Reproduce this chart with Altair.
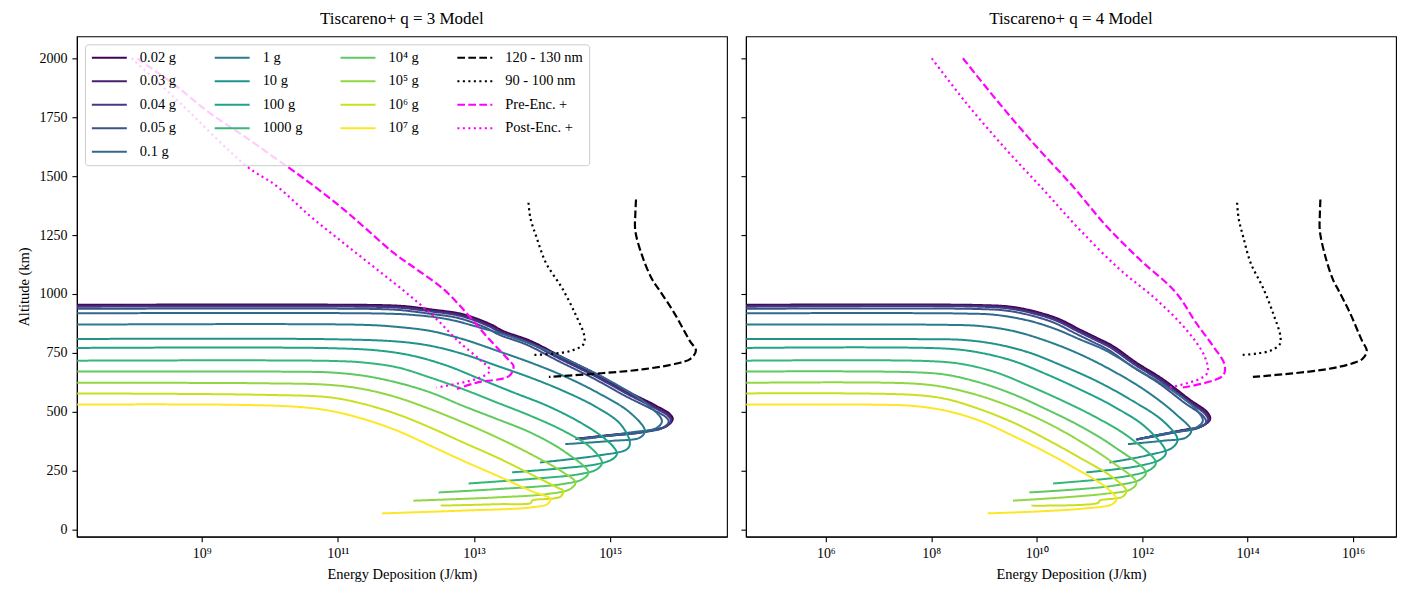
import altair as alt
import pandas as pd

# ---------------- data (log10 energy deposition [J/km], altitude [km]) ----------------
mass_labels = ["0.02 g", "0.03 g", "0.04 g", "0.05 g", "0.1 g", "1 g", "10 g", "100 g",
               "1000 g", "10⁴ g", "10⁵ g", "10⁶ g", "10⁷ g"]
mass_colors = ["#440154", "#481f70", "#443983", "#3b528b", "#31688e", "#287c8e", "#21918c",
               "#20a386", "#35b779", "#5ec962", "#90d743", "#c8e020", "#fde725"]
ref_labels = ["120 - 130 nm", "90 - 100 nm", "Pre-Enc. +", "Post-Enc. +"]
ref_colors = ["#000000", "#000000", "#ff00ff", "#ff00ff"]

# q = 3 model (left panel)
q3_002 = [(7.17, 954), (11.6, 953), (12.0, 948), (12.36, 935), (12.84, 914), (13.24, 872), (13.43, 843), (13.83, 801), (14.31, 730), (14.80, 660), (15.29, 582), (15.68, 525), (15.88, 490), (15.92, 469), (15.84, 441), (15.54, 419), (15.04, 403), (14.52, 386)]
q3_003 = [(7.17, 950), (11.6, 949), (11.98, 944), (12.34, 931), (12.82, 910), (13.22, 868), (13.41, 839), (13.81, 797), (14.29, 726), (14.78, 656), (15.27, 578), (15.66, 521), (15.86, 486), (15.90, 466), (15.82, 439), (15.52, 417), (15.02, 401), (14.50, 385)]
q3_004 = [(7.17, 946), (11.6, 945), (11.97, 940), (12.33, 927), (12.81, 906), (13.21, 864), (13.40, 835), (13.80, 793), (14.28, 722), (14.77, 652), (15.26, 574), (15.65, 517), (15.85, 483), (15.89, 463), (15.81, 437), (15.51, 415), (15.01, 399), (14.49, 384)]
q3_005 = [(7.17, 937), (11.6, 936), (11.94, 931), (12.30, 918), (12.78, 897), (13.18, 856), (13.37, 827), (13.77, 785), (14.25, 714), (14.74, 644), (15.23, 566), (15.62, 510), (15.82, 477), (15.86, 458), (15.78, 433), (15.48, 413), (14.98, 398), (14.52, 385)]
q3_01 = [(7.17, 918), (11.63, 917), (12.11, 911), (12.61, 893), (13.09, 857), (13.58, 815), (14.08, 759), (14.56, 695), (15.04, 624), (15.54, 533), (15.76, 462), (15.69, 433), (15.29, 412), (14.60, 384)]
q3_1 = [(7.17, 870), (11.38, 869), (11.88, 860), (12.36, 843), (12.84, 808), (13.34, 759), (13.83, 709), (14.31, 653), (14.81, 582), (15.29, 497), (15.51, 420), (15.44, 391), (15.04, 377), (14.34, 363)]
q3_10 = [(7.17, 809), (10.89, 808), (11.88, 798), (12.36, 780), (12.84, 745), (13.34, 695), (13.83, 645), (14.31, 589), (14.81, 518), (15.15, 448), (15.29, 370), (15.25, 342), (14.81, 314), (13.97, 285)]
q3_100 = [(7.17, 771), (10.89, 770), (11.63, 759), (12.11, 737), (12.61, 695), (13.09, 639), (13.58, 582), (14.08, 525), (14.56, 455), (14.90, 391), (15.07, 343), (15.10, 321), (15.04, 300), (14.81, 278), (14.31, 261), (13.56, 243)]
q3_1000 = [(7.17, 717), (10.89, 716), (11.38, 709), (11.88, 688), (12.36, 645), (12.84, 596), (13.34, 539), (13.83, 483), (14.31, 420), (14.71, 349), (14.88, 285), (14.81, 257), (14.56, 236), (13.83, 215), (12.92, 196)]
q3_1e4 = [(7.17, 671), (10.41, 670), (10.89, 667), (11.38, 653), (11.87, 624), (12.36, 582), (12.84, 525), (13.34, 469), (13.83, 412), (14.31, 335), (14.68, 243), (14.60, 215), (14.31, 194), (13.34, 172), (12.48, 158)]
q3_1e5 = [(7.17, 623), (9.91, 621), (10.89, 614), (11.38, 596), (11.87, 561), (12.36, 511), (12.84, 455), (13.34, 391), (13.83, 321), (14.31, 243), (14.49, 200), (14.41, 172), (14.07, 151), (13.34, 137), (12.11, 123)]
q3_1e6 = [(7.17, 578), (9.91, 572), (10.89, 561), (11.38, 533), (11.87, 490), (12.36, 433), (12.84, 370), (13.34, 306), (13.83, 236), (14.22, 179), (14.31, 165), (14.27, 140), (13.85, 123), (13.84, 114), (13.34, 108), (12.51, 102)]
q3_1e7 = [(7.17, 531), (9.42, 530), (10.41, 521), (10.89, 504), (11.38, 469), (11.87, 420), (12.36, 356), (12.84, 292), (13.34, 229), (13.83, 165), (14.12, 130), (14.08, 109), (13.83, 94), (12.84, 81), (11.65, 69)]
q3_pre = [(8.05, 2000), (8.63, 1881), (9.12, 1767), (9.62, 1670), (10.10, 1572), (10.29, 1534), (10.69, 1449), (11.08, 1360), (11.42, 1275), (11.82, 1174), (12.15, 1106), (12.55, 1021), (12.89, 919), (13.18, 822), (13.52, 716), (13.58, 695), (13.52, 653), (13.03, 623), (12.75, 597)]
q3_post = [(7.97, 2000), (8.68, 1811), (9.66, 1542), (10.10, 1458), (10.59, 1331), (11.08, 1217), (11.57, 1105), (12.06, 992), (12.45, 893), (12.79, 794), (13.08, 723), (13.23, 681), (13.22, 667), (13.03, 639), (12.45, 603)]

# q = 4 model (right panel)
q4_002 = [(4.49, 954), (8.92, 953), (9.55, 945), (10.05, 921), (10.43, 893), (10.81, 850), (11.13, 815), (11.44, 780), (11.89, 709), (12.39, 639), (12.89, 554), (13.24, 497), (13.29, 469), (13.15, 441), (12.71, 420), (11.92, 384)]
q4_003 = [(4.49, 950), (8.92, 950), (9.53, 941), (10.03, 917), (10.41, 889), (10.79, 846), (11.11, 811), (11.42, 776), (11.87, 705), (12.37, 635), (12.87, 550), (13.22, 493), (13.27, 466), (13.13, 439), (12.69, 418), (11.90, 383)]
q4_004 = [(4.49, 946), (8.92, 946), (9.51, 937), (10.01, 913), (10.39, 885), (10.77, 842), (11.09, 807), (11.40, 772), (11.85, 701), (12.35, 631), (12.85, 546), (13.20, 489), (13.25, 463), (13.11, 437), (12.67, 416), (11.88, 382)]
q4_005 = [(4.49, 937), (8.92, 936), (9.47, 928), (9.97, 904), (10.35, 876), (10.73, 833), (11.05, 798), (11.36, 763), (11.81, 692), (12.31, 622), (12.81, 537), (13.16, 481), (13.21, 456), (13.07, 432), (12.63, 413), (11.90, 382)]
q4_01 = [(4.49, 918), (8.60, 917), (9.23, 911), (9.86, 886), (10.37, 850), (10.81, 808), (11.32, 759), (11.95, 674), (12.58, 589), (13.02, 511), (13.15, 462), (13.02, 433), (12.39, 406), (12.07, 391), (11.95, 386)]
q4_1 = [(4.49, 870), (8.29, 869), (8.92, 864), (9.55, 843), (10.18, 801), (10.81, 745), (11.44, 674), (12.07, 589), (12.64, 490), (12.93, 420), (12.83, 391), (12.39, 377), (11.73, 363)]
q4_10 = [(4.49, 809), (7.97, 808), (8.60, 805), (9.23, 787), (9.86, 751), (10.49, 695), (11.13, 631), (11.76, 554), (12.39, 462), (12.67, 384), (12.58, 349), (12.07, 314), (11.38, 285)]
q4_100 = [(4.49, 771), (8.29, 768), (8.92, 751), (9.55, 716), (10.18, 660), (10.81, 596), (11.44, 525), (12.07, 434), (12.45, 328), (12.36, 300), (11.95, 271), (10.94, 243)]
q4_1000 = [(4.49, 717), (7.97, 715), (8.60, 702), (9.23, 667), (9.86, 610), (10.49, 547), (11.13, 476), (11.76, 391), (12.26, 285), (12.17, 257), (11.76, 229), (10.31, 196)]
q4_1e4 = [(4.49, 671), (7.65, 668), (8.29, 657), (8.92, 624), (9.55, 575), (10.18, 511), (10.81, 441), (11.44, 356), (12.07, 243), (11.98, 215), (11.44, 186), (9.86, 158)]
q4_1e5 = [(4.49, 623), (7.65, 620), (8.29, 603), (8.92, 568), (9.55, 518), (10.18, 455), (10.81, 377), (11.44, 285), (11.89, 200), (11.79, 172), (11.25, 151), (9.55, 123)]
q4_1e6 = [(4.49, 578), (7.65, 572), (8.29, 554), (8.92, 511), (9.55, 455), (10.18, 384), (10.81, 306), (11.44, 222), (11.70, 165), (11.63, 140), (11.19, 123), (11.17, 114), (9.90, 102)]
q4_1e7 = [(4.49, 531), (7.02, 530), (7.65, 525), (8.29, 504), (8.92, 462), (9.55, 398), (10.18, 328), (10.81, 250), (11.32, 179), (11.51, 130), (11.44, 109), (10.81, 88), (9.07, 69)]
q4_pre = [(8.60, 2000), (9.23, 1825), (9.93, 1641), (10.68, 1458), (11.32, 1288), (11.95, 1147), (12.64, 1006), (13.02, 878), (13.34, 780), (13.56, 702), (13.53, 653), (12.77, 603)]
q4_post = [(8.01, 2000), (8.66, 1811), (9.42, 1613), (10.12, 1444), (10.81, 1274), (11.57, 1105), (12.26, 978), (12.83, 850), (13.18, 737), (13.24, 667), (13.08, 639), (12.45, 599)]

# emission-line reference curves (same in both panels)
line_120_130 = [(15.38, 1401), (15.37, 1340), (15.37, 1267), (15.48, 1154), (15.62, 1060), (15.73, 1013), (15.94, 920), (16.17, 801), (16.26, 760), (16.18, 725), (15.98, 705), (15.50, 681), (14.85, 663), (14.10, 648)]
line_90_100 = [(13.80, 1387), (13.83, 1320), (13.92, 1239), (14.06, 1130), (14.29, 1027), (14.49, 914), (14.62, 822), (14.61, 787), (14.44, 760), (14.17, 747), (13.87, 741)]

q3_x_domain = [7.166, 16.716]
q4_x_domain = [4.485, 16.814]
y_domain = [-29.7, 2093]
q3_x_ticks = [9, 11, 13, 15]
q4_x_ticks = [6, 8, 10, 12, 14, 16]
y_ticks = [0, 250, 500, 750, 1000, 1250, 1500, 1750, 2000]

# ---------------- build tables ----------------
def table(named_curves):
    rows = []
    for name, pts in named_curves:
        for i, (x, y) in enumerate(pts):
            rows.append({"series": name, "logE": x, "alt": y, "idx": i})
    return pd.DataFrame(rows)

q3_mass = table(zip(mass_labels, [q3_002, q3_003, q3_004, q3_005, q3_01, q3_1, q3_10, q3_100,
                                  q3_1000, q3_1e4, q3_1e5, q3_1e6, q3_1e7]))
q4_mass = table(zip(mass_labels, [q4_002, q4_003, q4_004, q4_005, q4_01, q4_1, q4_10, q4_100,
                                  q4_1000, q4_1e4, q4_1e5, q4_1e6, q4_1e7]))
q3_refs = table(zip(ref_labels, [line_120_130, line_90_100, q3_pre, q3_post]))
q4_refs = table(zip(ref_labels, [line_120_130, line_90_100, q4_pre, q4_post]))

# legend: 4 columns filled column-wise, laid out row-major (horizontal direction)
DASH = [7.7, 3.3]
DOT = [2.1, 3.4]
SOLID = [1, 0]
style = {lab: (col, SOLID) for lab, col in zip(mass_labels, mass_colors)}
for lab, col, d in zip(ref_labels, ref_colors, [DASH, DOT, DASH, DOT]):
    style[lab] = (col, d)
columns = [mass_labels[0:5], mass_labels[5:9], mass_labels[9:13], ref_labels]
legend_order = []
for r in range(5):
    for c in columns:
        if r < len(c):
            legend_order.append(c[r])
legend_colors = [style[k][0] for k in legend_order]
legend_dashes = [style[k][1] for k in legend_order]

SUP = str.maketrans("0123456789", "⁰¹²³⁴⁵⁶⁷⁸⁹")
def pow_label_expr(ticks):
    expr = "''"
    for t in reversed(ticks):
        expr = f"datum.value == {t} ? '10{str(t).translate(SUP)}' : ({expr})"
    return expr

FONT = "Liberation Serif"

def panel(mass_df, ref_df, xdom, xticks, title, left):
    legend = alt.Legend(
        title=None, orient="top-left", direction="horizontal", offset=8, columns=4,
        columnPadding=37, rowPadding=7.5, clipHeight=15, symbolType="stroke",
        symbolSize=1225, symbolStrokeWidth=2, labelOffset=12, labelFont=FONT,
        labelFontSize=14.5, labelColor="black", padding=6,
        fillColor="rgba(255,255,255,0.8)", strokeColor="#cccccc", cornerRadius=3,
    ) if left else None
    x = alt.X("logE:Q", scale=alt.Scale(domain=xdom, nice=False, zero=False),
              axis=alt.Axis(values=xticks, labelExpr=pow_label_expr(xticks),
                            title="Energy Deposition (J/km)"))
    if left:
        y = alt.Y("alt:Q", scale=alt.Scale(domain=y_domain, nice=False, zero=False),
                  axis=alt.Axis(values=y_ticks, format="d", title="Altitude (km)"))
    else:
        y = alt.Y("alt:Q", scale=alt.Scale(domain=y_domain, nice=False, zero=False),
                  axis=alt.Axis(values=y_ticks, labels=False), title=None)
    color = alt.Color("series:N", scale=alt.Scale(domain=legend_order, range=legend_colors),
                      legend=legend)
    dash = alt.StrokeDash("series:N", scale=alt.Scale(domain=legend_order, range=legend_dashes),
                          legend=legend)
    enc = dict(x=x, y=y, color=color, strokeDash=dash, detail="series:N",
               order=alt.Order("idx:Q"))
    m = alt.Chart(mass_df).mark_line(clip=True, strokeWidth=2,
                                     interpolate="catmull-rom").encode(**enc)
    r = alt.Chart(ref_df).mark_line(clip=True, strokeWidth=2.2,
                                    interpolate="catmull-rom").encode(**enc)
    return alt.layer(m, r).properties(
        width=651, height=501,
        title=alt.TitleParams(title, font=FONT, fontSize=17, fontWeight="normal",
                              color="black", offset=8),
    )

left = panel(q3_mass, q3_refs, q3_x_domain, q3_x_ticks, "Tiscareno+ q = 3 Model", True)
right = panel(q4_mass, q4_refs, q4_x_domain, q4_x_ticks, "Tiscareno+ q = 4 Model", False)

chart = alt.hconcat(left, right, spacing=11).resolve_legend(
    color="independent", strokeDash="independent"
).properties(
    padding={"left": 16, "top": 9, "right": 7, "bottom": 5},
    background="white",
).configure_view(
    stroke="black", strokeWidth=1.1
).configure_axis(
    grid=False, domainColor="black", domainWidth=1.1, tickColor="black", tickWidth=1.1,
    tickSize=5, labelPadding=5, labelFont=FONT, labelFontSize=14, labelColor="black",
    titleFont=FONT, titleFontSize=14.5, titleFontWeight="normal", titleColor="black",
    titlePadding=7,
)

chart.save("out.html", embed_options={"renderer": "svg", "actions": False})
